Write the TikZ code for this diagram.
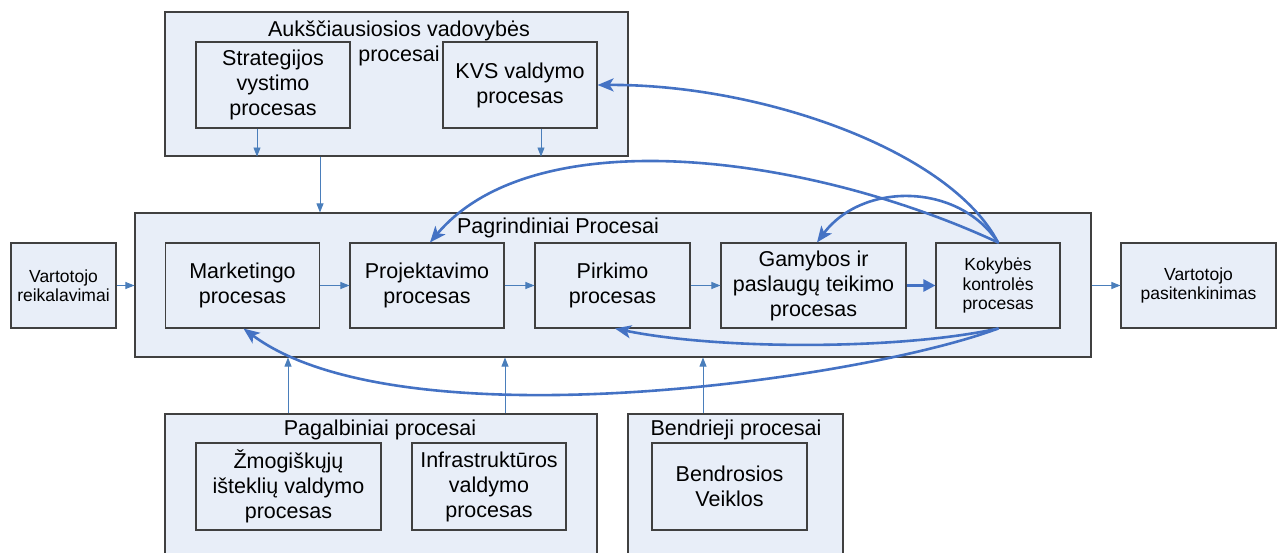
\documentclass[tikz,border=0pt]{standalone}
\usepackage{fontspec}
\setmainfont{Liberation Sans}
\usetikzlibrary{arrows.meta}

\definecolor{boxfill}{HTML}{E8EEF8}
\definecolor{boxline}{HTML}{404040}
\definecolor{flowblue}{HTML}{4A7EBB}
\definecolor{loopblue}{HTML}{4472C4}

\tikzset{
  panel/.style={draw=boxline, fill=boxfill, line width=1.1pt, inner sep=0pt},
  proc/.style={panel, align=center, font=\fontsize{21.5}{25}\selectfont},
  smallproc/.style={panel, align=center, font=\fontsize{17.5}{19.5}\selectfont},
  ptitle/.style={align=center, font=\fontsize{21.5}{25}\selectfont, inner sep=0pt},
  flowarrow/.style={draw=flowblue, line width=0.9pt, -{Triangle[length=9pt,width=7pt]}},
  mainflow/.style={draw=loopblue, line width=2.6pt, -{Triangle[length=12pt,width=12pt]}},
  feedback/.style={draw=loopblue, line width=2.6pt, line cap=round, line join=round,
    -{Stealth[length=16pt,width=13pt,inset=4pt]}},
}

\begin{document}
\begin{tikzpicture}[x=1pt,y=-1pt]
\useasboundingbox (0,0) rectangle (1280,553);
\clip (0,0) rectangle (1280,553);

% top management processes
\node[panel, minimum width=463pt, minimum height=144pt] (topbox) at (396.5,84) {};
\node[ptitle] (toptitle) at (399,43) {Aukščiausiosios vadovybės\\procesai};
\node[proc, minimum width=154pt, minimum height=86pt] (strat) at (273,85) {Strategijos\\vystimo\\procesas};
\node[proc, minimum width=154pt, minimum height=86pt] (kvs) at (520,85) {KVS valdymo\\procesas};

% core processes
\node[panel, minimum width=956pt, minimum height=144pt] (main) at (613,285) {};
\node[ptitle] (maintitle) at (558,228) {Pagrindiniai Procesai};
\node[proc, minimum width=154pt, minimum height=85pt] (mkt)  at (242.5,285.5) {Marketingo\\procesas};
\node[proc, minimum width=154pt, minimum height=85pt] (proj) at (427,285.5) {Projektavimo\\procesas};
\node[proc, minimum width=155pt, minimum height=85pt] (pirk) at (612.5,285.5) {Pirkimo\\procesas};
\node[proc, minimum width=185pt, minimum height=85pt] (gam)  at (813.5,285.5) {Gamybos ir\\paslaugų teikimo\\procesas};
\node[smallproc, minimum width=124pt, minimum height=85pt] (kok) at (998,285.5) {Kokybės\\kontrolės\\procesas};

% customer side
\node[smallproc, minimum width=105pt, minimum height=85pt] (vreik) at (63.5,285.5) {Vartotojo\\reikalavimai};
\node[smallproc, minimum width=155pt, minimum height=85pt] (vpas) at (1198.5,285.5) {Vartotojo\\pasitenkinimas};

% support and general processes
\node[panel, minimum width=432pt, minimum height=186pt] (pag) at (381,507) {};
\node[ptitle] (pagtitle) at (380,430) {Pagalbiniai procesai};
\node[proc, minimum width=185pt, minimum height=87pt] (zmog)  at (288.5,486.5) {Žmogiškųjų\\išteklių valdymo\\procesas};
\node[proc, minimum width=154pt, minimum height=87pt] (infra) at (489,486.5) {Infrastruktūros\\valdymo\\procesas};
\node[panel, minimum width=215pt, minimum height=186pt] (bend) at (735.5,507) {};
\node[ptitle] (bendtitle) at (736,430) {Bendrieji procesai};
\node[proc, minimum width=155pt, minimum height=87pt] (bendv) at (729.5,486.5) {Bendrosios\\Veiklos};

% straight flows
\draw[flowarrow] ([xshift=-16pt]strat.south) -- ([xshift=-16pt]strat.south |- topbox.south);
\draw[flowarrow] ([xshift=21pt]kvs.south) -- ([xshift=21pt]kvs.south |- topbox.south);
\draw[flowarrow] ([xshift=-76.5pt]topbox.south) -- ([xshift=-76.5pt]topbox.south |- main.north);
\draw[flowarrow] ([xshift=-93pt]pag.north) -- ([xshift=-93pt]pag.north |- main.south);
\draw[flowarrow] ([xshift=124pt]pag.north) -- ([xshift=124pt]pag.north |- main.south);
\draw[flowarrow] ([xshift=-32.5pt]bend.north) -- ([xshift=-32.5pt]bend.north |- main.south);
\draw[flowarrow] (vreik.east) -- (main.west |- vreik.east);
\draw[flowarrow] (mkt.east) -- (proj.west);
\draw[flowarrow] (proj.east) -- (pirk.west);
\draw[flowarrow] (pirk.east) -- (gam.west);
\draw[mainflow] (gam.east) -- (kok.west);
\draw[flowarrow] (main.east |- vpas.west) -- (vpas.west);

% feedback from quality control
\draw[feedback] (kok.north) .. controls (950,150) and (760,84) .. (kvs.east);
\draw[feedback] (kok.north) .. controls (810,155) and (535,118) .. ([xshift=3pt]proj.north);
\draw[feedback] (kok.north) .. controls (958,182) and (862,182) .. ([xshift=3.5pt]gam.north);
\draw[feedback] (kok.south) .. controls (900,350) and (720,350) .. ([xshift=2.5pt]pirk.south);
\draw[feedback] (kok.south) .. controls (860,380) and (400,445) .. ([xshift=1pt]mkt.south);
\end{tikzpicture}
\end{document}
